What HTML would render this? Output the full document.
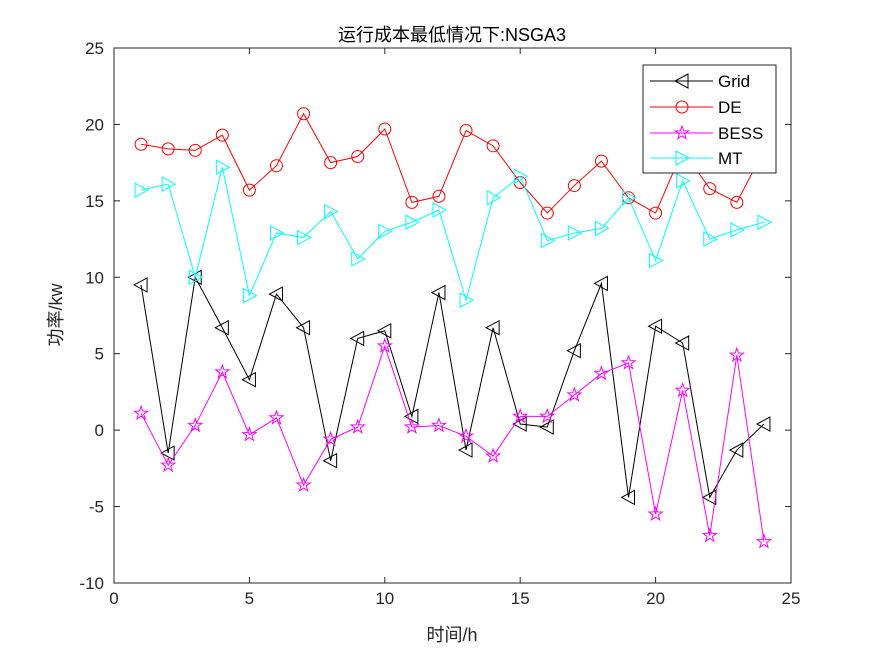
<!DOCTYPE html>
<html><head><meta charset="utf-8"><style>body{margin:0;background:#fff}svg{display:block}text{font-family:"Liberation Sans","Noto Sans CJK SC",sans-serif}</style></head>
<body>
<svg id="s" width="875" height="656" xmlns="http://www.w3.org/2000/svg">
<rect width="875" height="656" fill="#fff"/>
<rect x="114" y="48" width="677" height="535" fill="#fff" stroke="#262626" stroke-width="1"/>
<g id="g"></g>
</svg>
<script>
const NS="http://www.w3.org/2000/svg",g=document.getElementById('g');
const X=v=>114+v*27.08,Y=v=>583-(v+10)*15.286;
function el(t,a,txt){const e=document.createElementNS(NS,t);for(const k in a)e.setAttribute(k,a[k]);if(txt!=null)e.textContent=txt;g.appendChild(e);return e;}
for(let i=0;i<=25;i+=5){const x=X(i);el('line',{x1:x,y1:583,x2:x,y2:577,stroke:'#262626'});el('line',{x1:x,y1:48,x2:x,y2:54,stroke:'#262626'});el('text',{x:x,y:604,'font-size':17,'text-anchor':'middle',fill:'#262626'},i);}
for(let v=-10;v<=25;v+=5){const y=Y(v);el('line',{x1:114,y1:y,x2:120,y2:y,stroke:'#262626'});el('line',{x1:791,y1:y,x2:785,y2:y,stroke:'#262626'});el('text',{x:104,y:y+6,'font-size':17,'text-anchor':'end',fill:'#262626'},v);}
el('text',{x:452,y:41,'font-size':18,'text-anchor':'middle',fill:'#000'},'运行成本最低情况下:NSGA3');
el('text',{x:452,y:641,'font-size':18,'text-anchor':'middle',fill:'#262626'},'时间/h');
el('text',{x:0,y:0,'font-size':18,'text-anchor':'middle',fill:'#262626',transform:'translate(62,315) rotate(-90)'},'功率/kw');
const D={
Grid:{c:'#000',m:'L',d:[9.5,-1.5,10,6.7,3.3,8.9,6.7,-2,6,6.5,0.9,9,-1.3,6.7,0.4,0.2,5.2,9.6,-4.4,6.8,5.7,-4.4,-1.3,0.4]},
DE:{c:'#f00',m:'o',d:[18.7,18.4,18.3,19.3,15.7,17.3,20.7,17.5,17.9,19.7,14.9,15.3,19.6,18.6,16.2,14.2,16,17.6,15.2,14.2,18.3,15.8,14.9,18.3]},
BESS:{c:'#f0f',m:'p',d:[1.1,-2.3,0.3,3.8,-0.3,0.8,-3.6,-0.6,0.2,5.5,0.2,0.3,-0.4,-1.7,0.9,0.9,2.3,3.7,4.4,-5.5,2.6,-6.9,4.9,-7.3]},
MT:{c:'#0ff',m:'R',d:[15.7,16.1,10,17.2,8.8,12.9,12.6,14.3,11.2,13,13.6,14.4,8.5,15.2,16.6,12.4,12.9,13.2,15.2,11.1,16.3,12.5,13.1,13.6]}};
function mk(m,x,y,c,s){s=s||1;
 if(m=='o')el('circle',{cx:x,cy:y,r:6*s,fill:'none',stroke:c});
 else if(m=='L')el('polygon',{points:`${x-7*s},${y} ${x+6*s},${y-7*s} ${x+6*s},${y+7*s}`,fill:'none',stroke:c});
 else if(m=='R')el('polygon',{points:`${x+7*s},${y} ${x-6*s},${y-7*s} ${x-6*s},${y+7*s}`,fill:'none',stroke:c});
 else{let p=[];for(let i=0;i<10;i++){const r=(i%2?2.8:7)*s,a=-Math.PI/2+i*Math.PI/5;p.push((x+r*Math.cos(a)).toFixed(1)+','+(y+r*Math.sin(a)).toFixed(1));}el('polygon',{points:p.join(' '),fill:'none',stroke:c});}
}
for(const k in D){const s=D[k];el('polyline',{points:s.d.map((v,i)=>X(i+1)+','+Y(v)).join(' '),fill:'none',stroke:s.c,'stroke-width':1});s.d.forEach((v,i)=>mk(s.m,X(i+1),Y(v),s.c));}
el('rect',{x:643,y:65,width:133,height:108,fill:'#fff',stroke:'#262626'});
const LY=[81,107,133,158];let j=0;
for(const k in D){const s=D[k],ly=LY[j++];el('line',{x1:650,y1:ly,x2:713,y2:ly,stroke:s.c});mk(s.m,682,ly,s.c);el('text',{x:718,y:ly+6,'font-size':17,fill:'#000'},k);}
</script>
</body></html>
